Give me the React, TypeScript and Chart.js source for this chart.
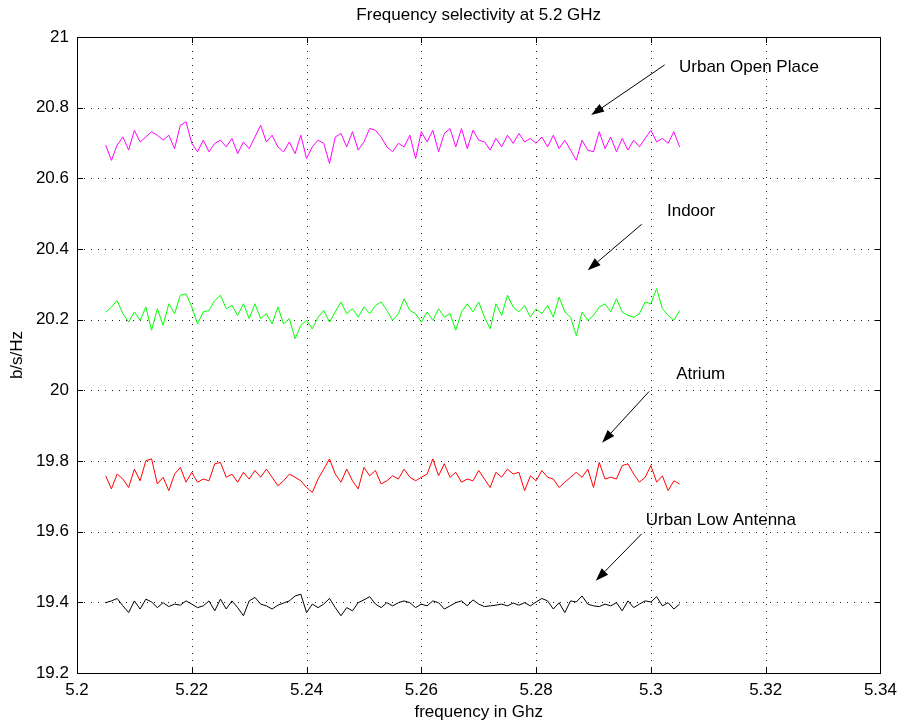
import React, { useEffect, useRef } from 'react';
import { Chart, registerables } from 'chart.js';

Chart.register(...registerables);

const FREQ = [
  5.205, 5.206, 5.207, 5.208, 5.209, 5.21, 5.211, 5.212, 5.213, 5.214,
  5.215, 5.216, 5.217, 5.218, 5.219, 5.22, 5.221, 5.222, 5.223, 5.224,
  5.225, 5.226, 5.227, 5.228, 5.229, 5.23, 5.231, 5.232, 5.233, 5.234,
  5.235, 5.236, 5.237, 5.238, 5.239, 5.24, 5.241, 5.242, 5.243, 5.244,
  5.245, 5.246, 5.247, 5.248, 5.249, 5.25, 5.251, 5.252, 5.253, 5.254,
  5.255, 5.256, 5.257, 5.258, 5.259, 5.26, 5.261, 5.262, 5.263, 5.264,
  5.265, 5.266, 5.267, 5.268, 5.269, 5.27, 5.271, 5.272, 5.273, 5.274,
  5.275, 5.276, 5.277, 5.278, 5.279, 5.28, 5.281, 5.282, 5.283, 5.284,
  5.285, 5.286, 5.287, 5.288, 5.289, 5.29, 5.291, 5.292, 5.293, 5.294,
  5.295, 5.296, 5.297, 5.298, 5.299, 5.3, 5.301, 5.302, 5.303, 5.304,
  5.305,
];

const URBAN_OPEN = [
  20.694, 20.651, 20.694, 20.717, 20.680, 20.736, 20.703, 20.717, 20.732, 20.722,
  20.708, 20.722, 20.684, 20.750, 20.760, 20.699, 20.675, 20.708, 20.675, 20.699,
  20.708, 20.689, 20.713, 20.670, 20.703, 20.684, 20.717, 20.750, 20.703, 20.722,
  20.689, 20.675, 20.703, 20.670, 20.722, 20.656, 20.689, 20.708, 20.699, 20.642,
  20.717, 20.727, 20.689, 20.732, 20.680, 20.703, 20.741, 20.736, 20.717, 20.689,
  20.675, 20.699, 20.689, 20.722, 20.656, 20.732, 20.703, 20.736, 20.675, 20.727,
  20.741, 20.689, 20.741, 20.684, 20.736, 20.708, 20.703, 20.680, 20.713, 20.689,
  20.722, 20.699, 20.727, 20.703, 20.713, 20.699, 20.717, 20.689, 20.722, 20.684,
  20.708, 20.680, 20.651, 20.708, 20.680, 20.675, 20.732, 20.684, 20.717, 20.675,
  20.713, 20.680, 20.708, 20.689, 20.713, 20.736, 20.703, 20.713, 20.699, 20.732,
  20.689,
];

const INDOOR = [
  20.221, 20.236, 20.254, 20.217, 20.193, 20.222, 20.198, 20.236, 20.170, 20.231,
  20.184, 20.245, 20.217, 20.269, 20.273, 20.236, 20.188, 20.222, 20.226, 20.254,
  20.269, 20.231, 20.240, 20.212, 20.245, 20.203, 20.245, 20.203, 20.217, 20.188,
  20.236, 20.188, 20.203, 20.146, 20.184, 20.198, 20.174, 20.207, 20.226, 20.193,
  20.222, 20.250, 20.217, 20.231, 20.207, 20.236, 20.217, 20.240, 20.250, 20.226,
  20.198, 20.217, 20.259, 20.226, 20.217, 20.193, 20.222, 20.198, 20.231, 20.207,
  20.217, 20.170, 20.222, 20.245, 20.222, 20.250, 20.207, 20.174, 20.245, 20.212,
  20.269, 20.236, 20.222, 20.240, 20.207, 20.231, 20.217, 20.240, 20.207, 20.264,
  20.222, 20.207, 20.155, 20.222, 20.198, 20.212, 20.236, 20.245, 20.222, 20.259,
  20.222, 20.212, 20.207, 20.217, 20.250, 20.245, 20.288, 20.231, 20.212, 20.198,
  20.226,
];

const ATRIUM = [
  19.758, 19.721, 19.763, 19.749, 19.725, 19.777, 19.744, 19.801, 19.806, 19.735,
  19.754, 19.716, 19.763, 19.782, 19.740, 19.768, 19.740, 19.749, 19.744, 19.792,
  19.796, 19.754, 19.763, 19.740, 19.768, 19.749, 19.773, 19.754, 19.777, 19.754,
  19.730, 19.744, 19.763, 19.754, 19.744, 19.725, 19.711, 19.749, 19.777, 19.806,
  19.763, 19.740, 19.777, 19.744, 19.721, 19.782, 19.758, 19.773, 19.735, 19.744,
  19.758, 19.749, 19.777, 19.754, 19.744, 19.754, 19.763, 19.806, 19.758, 19.792,
  19.754, 19.768, 19.740, 19.749, 19.744, 19.773, 19.749, 19.725, 19.768, 19.754,
  19.777, 19.763, 19.768, 19.716, 19.758, 19.744, 19.773, 19.754, 19.749, 19.725,
  19.740, 19.754, 19.768, 19.754, 19.777, 19.725, 19.796, 19.749, 19.754, 19.749,
  19.787, 19.792, 19.763, 19.740, 19.754, 19.787, 19.740, 19.758, 19.716, 19.744,
  19.735,
];

const URBAN_LOW = [
  19.399, 19.404, 19.411, 19.390, 19.371, 19.404, 19.381, 19.409, 19.401, 19.385,
  19.399, 19.388, 19.395, 19.392, 19.404, 19.395, 19.385, 19.390, 19.404, 19.376,
  19.409, 19.381, 19.404, 19.385, 19.362, 19.404, 19.414, 19.395, 19.390, 19.381,
  19.392, 19.398, 19.404, 19.418, 19.423, 19.371, 19.395, 19.385, 19.395, 19.411,
  19.385, 19.362, 19.385, 19.376, 19.399, 19.407, 19.416, 19.395, 19.385, 19.399,
  19.390, 19.399, 19.404, 19.399, 19.385, 19.395, 19.390, 19.404, 19.399, 19.381,
  19.390, 19.399, 19.404, 19.390, 19.407, 19.395, 19.388, 19.390, 19.392, 19.395,
  19.390, 19.398, 19.392, 19.399, 19.390, 19.401, 19.411, 19.404, 19.381, 19.399,
  19.371, 19.404, 19.401, 19.418, 19.395, 19.390, 19.388, 19.395, 19.390, 19.399,
  19.376, 19.404, 19.385, 19.395, 19.404, 19.401, 19.416, 19.390, 19.399, 19.381,
  19.395,
];

const X_TICKS = [5.2, 5.22, 5.24, 5.26, 5.28, 5.3, 5.32, 5.34];
const Y_TICKS = [19.2, 19.4, 19.6, 19.8, 20, 20.2, 20.4, 20.6, 20.8, 21];

const TITLE = 'Frequency selectivity at 5.2 GHz';
const X_LABEL = 'frequency in Ghz';
const Y_LABEL = 'b/s/Hz';

const ANNOTATIONS = [
  { text: 'Urban Open Place', tx: 5.3049, ty: 20.915, x1: 5.3024, y1: 20.921, x2: 5.2896, y2: 20.779 },
  { text: 'Indoor', tx: 5.3028, ty: 20.507, x1: 5.2984, y1: 20.47, x2: 5.289, y2: 20.34 },
  { text: 'Atrium', tx: 5.3044, ty: 20.045, x1: 5.2997, y1: 19.997, x2: 5.2915, y2: 19.852 },
  { text: 'Urban Low Antenna', tx: 5.2991, ty: 19.631, x1: 5.2984, y1: 19.594, x2: 5.2904, y2: 19.461 },
];

const FONT = '"Liberation Sans", Arial, Helvetica, sans-serif';
const FONT_SIZE = 17;

const fmt = (v: number) => String(Math.round(v * 100) / 100);

const framePlugin = {
  id: 'matlabFrame',
  beforeDatasetsDraw(chart: any) {
    const { ctx, chartArea, scales } = chart;
    const { left, right, top, bottom } = chartArea;
    const xs = scales.x;
    const ys = scales.y;
    ctx.save();
    ctx.strokeStyle = '#222';
    ctx.lineWidth = 1;
    ctx.setLineDash([1, 6]);
    X_TICKS.forEach((v) => {
      const px = Math.round(xs.getPixelForValue(v)) + 0.5;
      if (px <= left + 1 || px >= right - 1) return;
      ctx.beginPath();
      ctx.moveTo(px, top);
      ctx.lineTo(px, bottom);
      ctx.stroke();
    });
    Y_TICKS.forEach((v) => {
      const py = Math.round(ys.getPixelForValue(v)) + 0.5;
      if (py <= top + 1 || py >= bottom - 1) return;
      ctx.beginPath();
      ctx.moveTo(left, py);
      ctx.lineTo(right, py);
      ctx.stroke();
    });
    ctx.restore();
  },
  afterDatasetsDraw(chart: any) {
    const { ctx, chartArea, scales } = chart;
    const { left, right, top, bottom } = chartArea;
    const xs = scales.x;
    const ys = scales.y;
    ctx.save();
    ctx.setLineDash([]);
    ctx.strokeStyle = '#000';
    ctx.lineWidth = 1;
    // box
    ctx.strokeRect(Math.round(left) + 0.5, Math.round(top) + 0.5, Math.round(right - left), Math.round(bottom - top));
    // inward ticks
    const tl = 6;
    ctx.beginPath();
    X_TICKS.forEach((v) => {
      const px = Math.round(xs.getPixelForValue(v)) + 0.5;
      ctx.moveTo(px, bottom);
      ctx.lineTo(px, bottom - tl);
      ctx.moveTo(px, top);
      ctx.lineTo(px, top + tl);
    });
    Y_TICKS.forEach((v) => {
      const py = Math.round(ys.getPixelForValue(v)) + 0.5;
      ctx.moveTo(left, py);
      ctx.lineTo(left + tl, py);
      ctx.moveTo(right, py);
      ctx.lineTo(right - tl, py);
    });
    ctx.stroke();

    // annotations
    ctx.fillStyle = '#000';
    ctx.font = `${FONT_SIZE}px ${FONT}`;
    ctx.textAlign = 'left';
    ctx.textBaseline = 'middle';
    ANNOTATIONS.forEach((a) => {
      const tx = xs.getPixelForValue(a.tx);
      const ty = ys.getPixelForValue(a.ty);
      ctx.fillText(a.text, tx, ty);
      const x1 = xs.getPixelForValue(a.x1);
      const y1 = ys.getPixelForValue(a.y1);
      const x2 = xs.getPixelForValue(a.x2);
      const y2 = ys.getPixelForValue(a.y2);
      const ang = Math.atan2(y2 - y1, x2 - x1);
      const hl = 13;
      const hw = 4.5;
      const bx = x2 - hl * Math.cos(ang);
      const by = y2 - hl * Math.sin(ang);
      ctx.beginPath();
      ctx.moveTo(x1, y1);
      ctx.lineTo(bx, by);
      ctx.stroke();
      ctx.beginPath();
      ctx.moveTo(x2, y2);
      ctx.lineTo(bx + hw * Math.sin(ang), by - hw * Math.cos(ang));
      ctx.lineTo(bx - hw * Math.sin(ang), by + hw * Math.cos(ang));
      ctx.closePath();
      ctx.fill();
    });

    // title and axis labels
    const cx = (left + right) / 2;
    ctx.textAlign = 'center';
    ctx.textBaseline = 'middle';
    ctx.fillText(TITLE, cx, 15);
    ctx.fillText(X_LABEL, cx, 712);
    ctx.save();
    ctx.translate(17, (top + bottom) / 2);
    ctx.rotate(-Math.PI / 2);
    ctx.fillText(Y_LABEL, 0, 0);
    ctx.restore();
    ctx.restore();
  },
};

export default function App() {
  const ref = useRef<HTMLCanvasElement | null>(null);
  useEffect(() => {
    document.body.style.margin = '0';
    const canvas = ref.current;
    if (!canvas) return;
    const mk = (vals: number[]) => FREQ.map((f, i) => ({ x: f, y: vals[i] }));
    const chart = new Chart(canvas, {
      type: 'line',
      data: {
        datasets: [
          { label: 'Urban Open Place', data: mk(URBAN_OPEN), borderColor: '#ff00ff', borderWidth: 1, pointRadius: 0, fill: false },
          { label: 'Indoor', data: mk(INDOOR), borderColor: '#00ff00', borderWidth: 1, pointRadius: 0, fill: false },
          { label: 'Atrium', data: mk(ATRIUM), borderColor: '#ff0000', borderWidth: 1, pointRadius: 0, fill: false },
          { label: 'Urban Low Antenna', data: mk(URBAN_LOW), borderColor: '#000000', borderWidth: 1, pointRadius: 0, fill: false },
        ],
      },
      options: {
        responsive: false,
        animation: false,
        devicePixelRatio: 1,
        layout: { padding: { top: 37, right: 22, left: 0, bottom: 0 } },
        plugins: {
          legend: { display: false },
          tooltip: { enabled: false },
          title: { display: false },
        },
        elements: { line: { tension: 0 }, point: { radius: 0 } },
        scales: {
          x: {
            type: 'linear',
            min: 5.2,
            max: 5.34,
            afterBuildTicks: (s: any) => {
              s.ticks = X_TICKS.map((v) => ({ value: v }));
            },
            afterFit: (s: any) => {
              s.height = 51;
            },
            grid: { display: false, drawTicks: false },
            border: { display: false },
            ticks: {
              padding: 7,
              color: '#000',
              autoSkip: false,
              maxRotation: 0,
              font: { family: FONT, size: FONT_SIZE },
              callback: (v: any) => fmt(Number(v)),
            },
          },
          y: {
            type: 'linear',
            min: 19.2,
            max: 21,
            afterBuildTicks: (s: any) => {
              s.ticks = Y_TICKS.map((v) => ({ value: v }));
            },
            afterFit: (s: any) => {
              s.width = 77;
            },
            grid: { display: false, drawTicks: false },
            border: { display: false },
            ticks: {
              padding: 8,
              color: '#000',
              autoSkip: false,
              font: { family: FONT, size: FONT_SIZE },
              callback: (v: any) => fmt(Number(v)),
            },
          },
        },
      },
      plugins: [framePlugin],
    });
    return () => chart.destroy();
  }, []);
  return (
    <div style={{ width: 904, height: 724, background: '#fff' }}>
      <canvas ref={ref} width={904} height={724} style={{ display: 'block' }} />
    </div>
  );
}
